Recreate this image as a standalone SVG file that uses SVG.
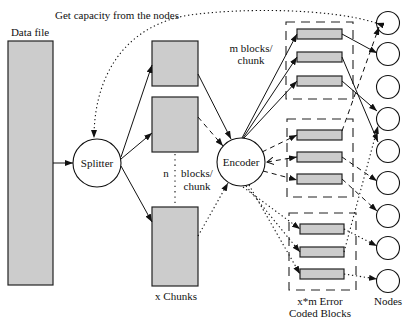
<svg xmlns="http://www.w3.org/2000/svg" width="403" height="320" viewBox="0 0 403 320">
<style>
text{font-family:'Liberation Serif','DejaVu Serif',serif;font-size:11px;fill:#111}
.blk{fill:#cccccc;stroke:#222;stroke-width:1.2}
.nd{fill:#fff;stroke:#111;stroke-width:1.1}
.box{fill:none;stroke:#222;stroke-width:1.1;stroke-dasharray:9,6}
.s{fill:none;stroke:#111;stroke-width:1;marker-end:url(#arr)}
.d{fill:none;stroke:#111;stroke-width:1;stroke-dasharray:5,4;marker-end:url(#arr)}
.o{fill:none;stroke:#111;stroke-width:1.1;stroke-dasharray:1.3,2.7;marker-end:url(#arr)}
</style>
<defs>
<marker id="arr" markerUnits="userSpaceOnUse" markerWidth="8" markerHeight="6" refX="8" refY="3" orient="auto"><path d="M0,0 L8,3 L0,6 z" fill="#111"/></marker>
<marker id="chev" markerUnits="userSpaceOnUse" markerWidth="8" markerHeight="8" refX="7" refY="4" orient="auto-start-reverse"><path d="M0,0 L7,4 L0,8" fill="none" stroke="#111" stroke-width="1"/></marker>
</defs>

<g id="datafile"><rect class="blk" x="8" y="41" width="45" height="244"/><text x="30" y="36" text-anchor="middle">Data file</text></g>
<g id="splitter"><circle class="nd" cx="97" cy="163" r="24"/><text x="97" y="167" text-anchor="middle">Splitter</text></g>
<g id="chunk1"><rect class="blk" x="152" y="41" width="46" height="45"/></g>
<g id="chunk2"><rect class="blk" x="152" y="97" width="46" height="55"/></g>
<g id="chunk3"><rect class="blk" x="152" y="207" width="46" height="79"/></g>
<g id="encoder"><circle class="nd" cx="241" cy="162" r="24"/><text x="241" y="166" text-anchor="middle">Encoder</text></g>

<g id="group1"><rect class="box" x="286" y="22" width="67" height="77"/>
<rect class="blk" x="297" y="29" width="45" height="10"/><rect class="blk" x="297" y="52" width="45" height="10"/><rect class="blk" x="297" y="76" width="45" height="10"/></g>
<g id="group2"><rect class="box" x="287" y="119" width="66" height="78"/>
<rect class="blk" x="297" y="130" width="45" height="10"/><rect class="blk" x="297" y="152" width="45" height="10"/><rect class="blk" x="297" y="174" width="45" height="10"/></g>
<g id="group3"><rect class="box" x="289" y="213" width="67" height="77"/>
<rect class="blk" x="300" y="224" width="44" height="10"/><rect class="blk" x="300" y="247" width="44" height="10"/><rect class="blk" x="300" y="269" width="44" height="10"/></g>

<g id="nodes">
<circle class="nd" cx="388" cy="23" r="11.5"/><circle class="nd" cx="388" cy="54" r="11.5"/><circle class="nd" cx="388" cy="87" r="11.5"/>
<circle class="nd" cx="388" cy="119" r="11.5"/><circle class="nd" cx="388" cy="151" r="11.5"/><circle class="nd" cx="388" cy="183" r="11.5"/>
<circle class="nd" cx="388" cy="216" r="11.5"/><circle class="nd" cx="388" cy="248" r="11.5"/><circle class="nd" cx="388" cy="281" r="11.5"/>
</g>

<g id="labels" font-family="Liberation Serif, serif">
<text x="55" y="19">Get capacity from the nodes</text>
<text x="251" y="52" text-anchor="middle">m blocks/</text>
<text x="251" y="64" text-anchor="middle">chunk</text>
<text x="166" y="177" text-anchor="middle">n</text>
<text x="197" y="177" text-anchor="middle">blocks/</text>
<text x="197" y="190" text-anchor="middle">chunk</text>
<text x="176" y="300" text-anchor="middle">x Chunks</text>
<text x="320" y="305" text-anchor="middle">x*m Error</text>
<text x="320" y="317" text-anchor="middle">Coded Blocks</text>
<text x="388" y="305" text-anchor="middle">Nodes</text>
</g>

<g id="connectors">
<path class="o" d="M376,23 C330,8 240,8 190,15 C130,24 94,70 94,138" style="marker-start:url(#arr)"/>
<line class="s" x1="53" y1="163" x2="73" y2="163"/>
<line class="s" x1="121" y1="157" x2="152" y2="65"/>
<line class="s" x1="121" y1="159" x2="152" y2="133"/>
<line class="s" x1="121" y1="166" x2="152" y2="222"/>
<line x1="175" y1="154" x2="175" y2="205" stroke="#111" stroke-width="1.1" stroke-dasharray="1.3,4"/>
<line class="s" x1="198" y1="74" x2="231" y2="139"/>
<line class="d" x1="198" y1="117" x2="223" y2="146"/>
<line class="o" x1="198" y1="236" x2="228" y2="183"/>
<line class="s" x1="242" y1="138" x2="297" y2="34"/>
<line class="s" x1="243" y1="138" x2="297" y2="57"/>
<line class="s" x1="244" y1="138" x2="297" y2="81"/>
<line class="d" x1="262" y1="152" x2="297" y2="135"/>
<line class="d" x1="267" y1="162" x2="297" y2="157" style="marker-start:url(#chev)"/>
<line class="d" x1="263" y1="171" x2="297" y2="180"/>
<line class="o" x1="243" y1="187" x2="300" y2="229"/>
<line class="o" x1="246" y1="186" x2="300" y2="252"/>
<line class="o" x1="249" y1="185" x2="300" y2="274"/>
<line class="s" x1="342" y1="34" x2="377" y2="53"/>
<line class="s" x1="342" y1="57" x2="378" y2="142"/>
<line class="s" x1="342" y1="81" x2="377" y2="111"/>
<line class="d" x1="342" y1="131" x2="379" y2="27"/>
<line class="d" x1="342" y1="157" x2="377" y2="181"/>
<line class="d" x1="342" y1="179" x2="377" y2="211"/>
<line class="o" x1="344" y1="229" x2="377" y2="246"/>
<line class="o" x1="344" y1="252" x2="378" y2="126"/>
<line class="o" x1="344" y1="274" x2="377" y2="279"/>
</g>
</svg>
